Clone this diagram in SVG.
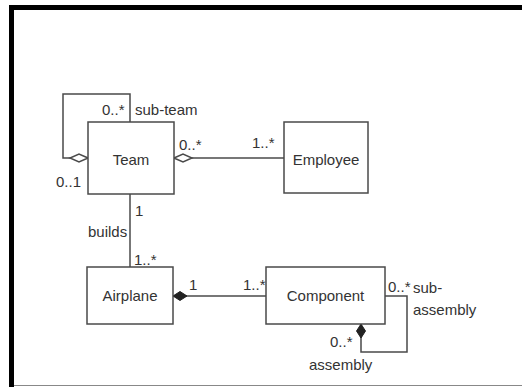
<svg xmlns="http://www.w3.org/2000/svg" width="522" height="387" viewBox="0 0 522 387">
<style>
.box{fill:#fff;stroke:#4a4a4a;stroke-width:1.5}
.ln{fill:none;stroke:#4a4a4a;stroke-width:1.5}
text{font-family:"Liberation Sans",Arial,sans-serif;font-size:15px;fill:#333}
.c{text-anchor:middle}
</style>
<defs>
<marker id="hollow" markerUnits="userSpaceOnUse" viewBox="-1 -5 21 10" markerWidth="21" markerHeight="10" refX="0" refY="0" orient="auto">
<path d="M0,0 L9,-4 L18,0 L9,4 Z" fill="#fff" stroke="#4a4a4a" stroke-width="1.5"/>
</marker>
<marker id="filled" markerUnits="userSpaceOnUse" viewBox="-1 -6 17 12" markerWidth="17" markerHeight="12" refX="0" refY="0" orient="auto">
<path d="M0,0 L7,-4.5 L14,0 L7,4.5 Z" fill="#222" stroke="#222" stroke-width="1"/>
</marker>
</defs>
<g id="frame">
<rect x="9" y="5" width="513" height="5" fill="#000"/>
<rect x="9" y="5" width="5" height="382" fill="#000"/>
<line x1="14" y1="385.5" x2="522" y2="385.5" stroke="#888" stroke-width="1"/>
</g>
<g id="connectors">
<path class="ln" d="M88,158 L63,158 L63,94 L130,94 L130,122" marker-start="url(#hollow)"/>
<path class="ln" d="M174,158 L284,158" marker-start="url(#hollow)"/>
<path class="ln" d="M130,194 L130,267"/>
<path class="ln" d="M173,296 L266,296" marker-start="url(#filled)"/>
<path class="ln" d="M361,324 L361,352 L407,352 L407,296 L385,296" marker-start="url(#filled)"/>
</g>
<g id="team">
<rect class="box" x="88" y="122" width="86" height="72"/>
<text class="c" x="131" y="165">Team</text>
</g>
<g id="employee">
<rect class="box" x="284" y="122" width="84" height="71"/>
<text class="c" x="326" y="165">Employee</text>
</g>
<g id="airplane">
<rect class="box" x="87" y="267" width="86" height="57"/>
<text class="c" x="130" y="301">Airplane</text>
</g>
<g id="component">
<rect class="box" x="266" y="267" width="119" height="57"/>
<text class="c" x="325.5" y="301">Component</text>
</g>
<g id="labels">
<text x="102" y="115">0..*</text>
<text x="135" y="115">sub-team</text>
<text x="56" y="187">0..1</text>
<text x="179" y="150">0..*</text>
<text x="252" y="148">1..*</text>
<text x="135" y="216">1</text>
<text x="88" y="237">builds</text>
<text x="134" y="265">1..*</text>
<text x="189" y="290">1</text>
<text x="243" y="290">1..*</text>
<text x="388" y="292">0..*</text>
<text x="413" y="293">sub-</text>
<text x="413" y="315">assembly</text>
<text x="330" y="347">0..*</text>
<text x="309" y="370">assembly</text>
</g>
</svg>
